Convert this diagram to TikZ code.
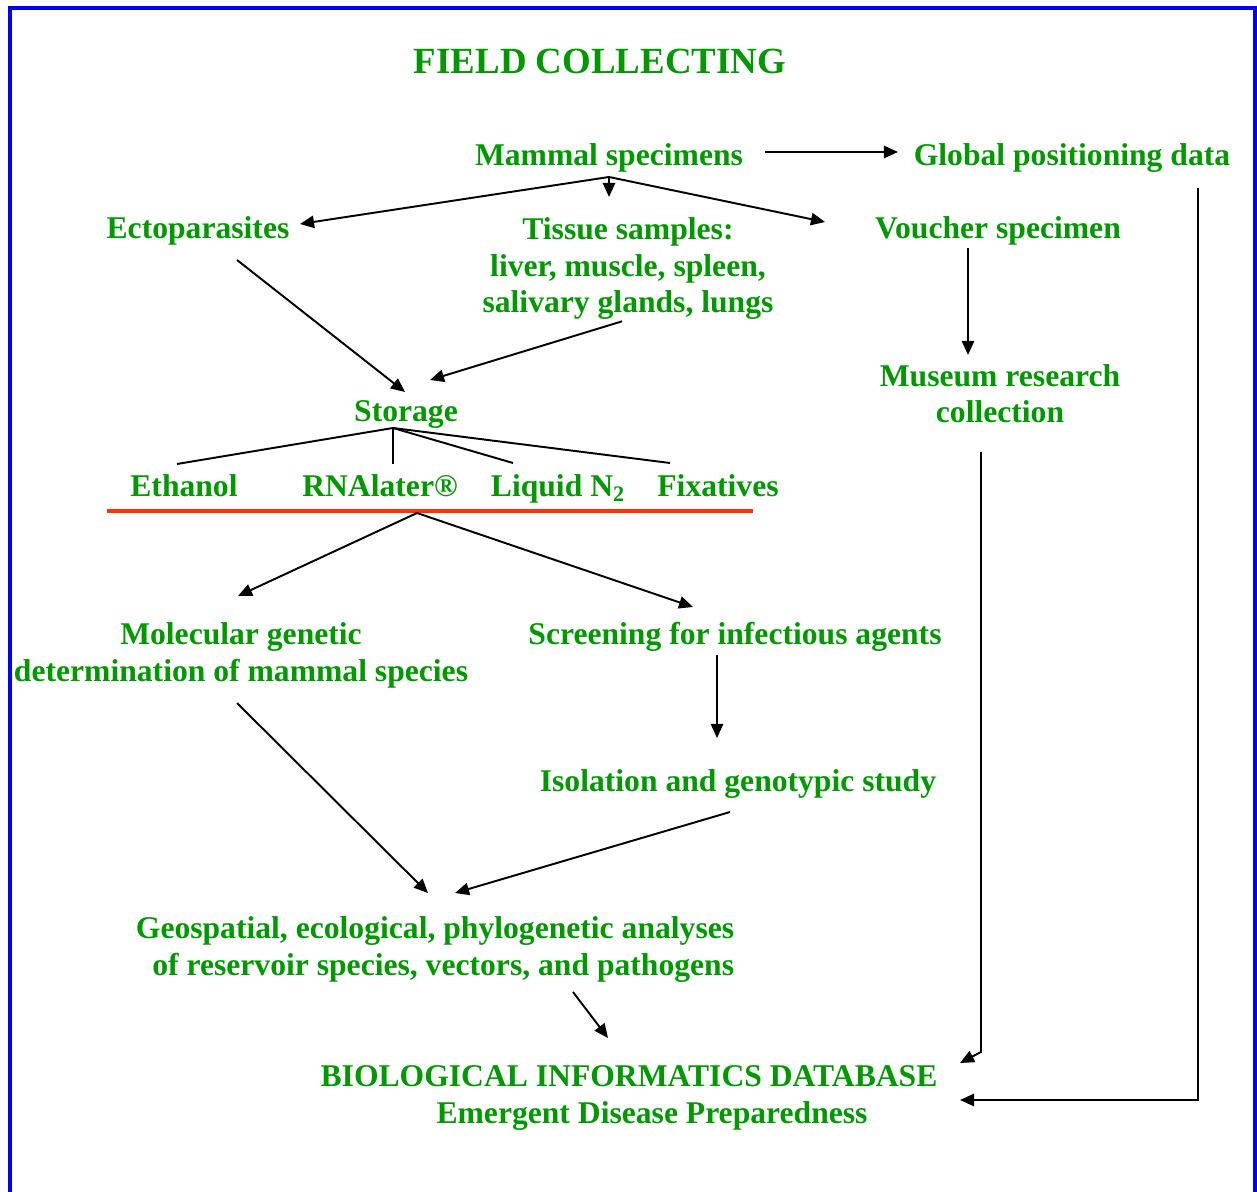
\documentclass[tikz,border=0pt]{standalone}
\usepackage{fontspec}
\setmainfont{Liberation Serif}
\usepackage{tikz}
\usetikzlibrary{arrows.meta, calc}

\definecolor{verdetxt}{RGB}{0,153,0}
\definecolor{azulmarco}{RGB}{0,0,255}
\definecolor{rojolinea}{RGB}{255,51,0}

\tikzset{
    txt_verde/.style={text=verdetxt, font=\fontsize{18}{21}\selectfont\bfseries, inner sep=0pt, anchor=base},
    txt_titulo/.style={txt_verde, font=\fontsize{21}{25}\selectfont\bfseries},
    flecha/.style={draw, -{Triangle[length=8pt, width=7pt]}, line width=1.1pt, color=black},
    rama/.style={draw, line width=1.1pt, color=black}
}

\begin{document}
\begin{tikzpicture}[x=0.02cm, y=-0.02cm]
    \useasboundingbox (0,0) rectangle (1257,1192);
    \clip (0,0) rectangle (1257,1192);

    % Marco azul (abierto por abajo)
    \draw[azulmarco, line width=2.3pt] (10,8) rectangle (1255,1300);

    % 1. Titulo
    \node[txt_titulo] (titulo) at (600,74) {FIELD COLLECTING};

    % 2. Fila superior
    \node[txt_verde] (mamifero) at (609,166) {Mammal specimens};
    \node[txt_verde] (gps) at (1072,166) {Global positioning data};

    % 3. Lo que sale del especimen (base = ultima linea)
    \node[txt_verde] (ecto) at (198,239) {Ectoparasites};
    \node[txt_verde, align=center] (tejido) at (628,313) {Tissue samples:\\ liver, muscle, spleen,\\ salivary glands, lungs};
    \node[txt_verde] (voucher) at (998,239) {Voucher specimen};
    \node[txt_verde, align=center] (museo) at (1000,423) {Museum research\\ collection};

    % 4. Almacenamiento
    \node[txt_verde] (storage) at (406,422) {Storage};
    \node[txt_verde] (etanol) at (184,497) {Ethanol};
    \node[txt_verde] (rnalater) at (380,497) {RNAlater®};
    \node[txt_verde] (liquido) at (558,497) {Liquid N\textsubscript{2}};
    \node[txt_verde] (fijador) at (718,497) {Fixatives};

    % 5. Analisis
    \node[txt_verde, align=center] (molecular) at (241,681) {Molecular genetic\\ determination of mammal species};
    \node[txt_verde] (screening) at (735,644) {Screening for infectious agents};
    \node[txt_verde] (aislamiento) at (738,791) {Isolation and genotypic study};
    \node[txt_verde, align=right] (geo) at (435,975) {Geospatial, ecological, phylogenetic analyses\\ of reservoir species, vectors, and pathogens};

    % 6. Base de datos final
    \node[txt_verde] (db) at (629,1086) {BIOLOGICAL INFORMATICS DATABASE};
    \node[txt_verde] (dbsub) at (652,1123) {Emergent Disease Preparedness};

    % --- CONEXIONES ---

    \draw[flecha] ($(mamifero.base)+(156,-14)$) -- ($(gps.base)+(-174,-14)$);

    % Abanico desde el especimen
    \coordinate (nudo_mam) at ($(mamifero.base)+(0,11)$);
    \draw[flecha] (nudo_mam) -- ($(ecto.base)+(102,-15)$);
    \draw[flecha] (nudo_mam) -- ($(mamifero.base)+(0,31)$);
    \draw[flecha] (nudo_mam) -- ($(voucher.base)+(-173,-17)$);

    \draw[flecha] ($(voucher.base)+(-30,9)$) -- ($(museo.base)+(-32,-68)$);

    % Hacia storage
    \draw[flecha] ($(ecto.base)+(39,21)$) -- ($(storage.base)+(-1,-30)$);
    \draw[flecha] ($(tejido.south)+(-6,1)$) -- ($(storage.base)+(24,-42)$);

    % Ramas de storage
    \coordinate (nudo_sto) at ($(storage.base)+(-13,6)$);
    \draw[rama] (nudo_sto) -- ($(etanol.base)+(-7,-33)$);
    \draw[rama] (nudo_sto) -- ($(rnalater.base)+(13,-33)$);
    \draw[rama] (nudo_sto) -- ($(liquido.base)+(-45,-34)$);
    \draw[rama] (nudo_sto) -- ($(fijador.base)+(-48,-34)$);

    % Linea roja bajo los conservantes
    \draw[rojolinea, line width=2.3pt] ($(etanol.base)+(-77,14)$) -- ($(fijador.base)+(35,14)$);
    \coordinate (nudo_rna) at ($(rnalater.base)+(37,16)$);
    \draw[flecha] (nudo_rna) -- ($(molecular.base)+(-3,-85)$);
    \draw[flecha] (nudo_rna) -- ($(screening.base)+(-42,-37)$);

    \draw[flecha] ($(screening.base)+(-18,11)$) -- ($(aislamiento.base)+(-21,-53)$);

    % Hacia el analisis geoespacial
    \draw[flecha] ($(molecular.base)+(-4,22)$) -- ($(geo.base)+(-7,-82)$);
    \draw[flecha] ($(aislamiento.base)+(-8,21)$) -- ($(geo.base)+(20,-82)$);
    \draw[flecha] ($(geo.base)+(138,17)$) -- ($(db.base)+(-21,-48)$);

    % Retornos por la derecha
    \draw[flecha] ($(museo.base)+(-19,29)$) -- ($(db.base)+(352,-34)$) -- ($(db.base)+(331,-23)$);
    \draw[flecha] ($(gps.base)+(126,22)$) |- ($(dbsub.base)+(308,-23)$);

\end{tikzpicture}
\end{document}
